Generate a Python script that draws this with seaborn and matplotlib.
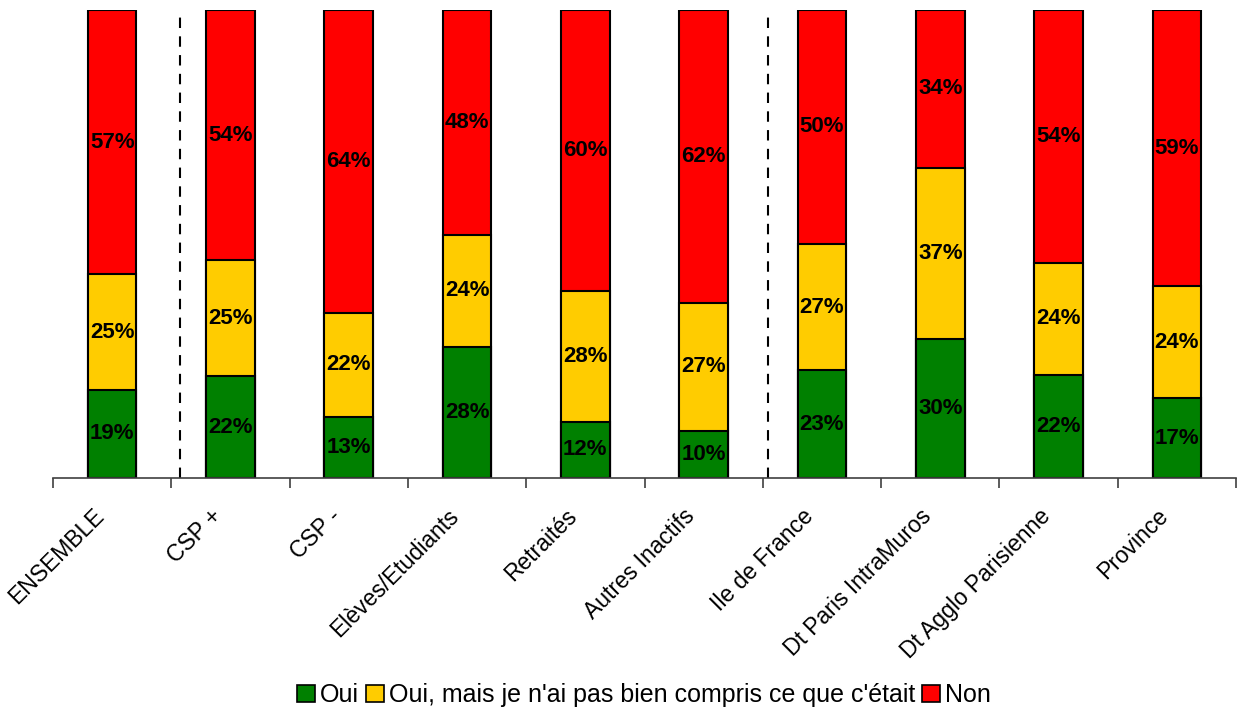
import matplotlib
matplotlib.use("Agg")
import matplotlib.pyplot as plt
from matplotlib.patches import Patch
from matplotlib.transforms import ScaledTranslation
import numpy as np
import pandas as pd
import seaborn as sns

categories = ["ENSEMBLE", "CSP +", "CSP -", "Elèves/Etudiants", "Retraités",
              "Autres Inactifs", "Ile de France", "Dt Paris IntraMuros",
              "Dt Agglo Parisienne", "Province"]
oui = [19, 22, 13, 28, 12, 10, 23, 30, 22, 17]
oui_mal_compris = [25, 25, 22, 24, 28, 27, 27, 37, 24, 24]
non = [57, 54, 64, 48, 60, 62, 50, 34, 54, 59]
series_names = ["Oui", "Oui, mais je n'ai pas bien compris ce que c'était", "Non"]
series_colors = ["#008000", "#FFCC00", "#FF0000"]

sns.set_theme(style="white")
plt.rcParams["font.family"] = ["Liberation Sans", "DejaVu Sans"]
plt.rcParams["text.color"] = "black"
plt.rcParams["xtick.color"] = "black"
plt.rcParams["xtick.labelcolor"] = "black"

df = pd.DataFrame({"cat": categories, "oui": oui, "mal": oui_mal_compris, "non": non})
total = df[["oui", "mal", "non"]].sum(axis=1)
# 100% stacked: each bar scaled to its own total
df["s_oui"] = df["oui"] / total * 100
df["s_mal"] = df["mal"] / total * 100
df["s_non"] = df["non"] / total * 100
df["c1"] = df["s_oui"]
df["c2"] = df["s_oui"] + df["s_mal"]
df["c3"] = df["c2"] + df["s_non"]

fig = plt.figure(figsize=(12.38, 7.12), dpi=100)
ax = fig.add_axes([53 / 1238, (712 - 478) / 712, (1236 - 53) / 1238, 468 / 712])

bar_w = 0.41
for col, color in zip(["c3", "c2", "c1"], series_colors[::-1]):
    sns.barplot(data=df, x="cat", y=col, order=categories, color=color,
                width=bar_w, edgecolor="black", linewidth=1.5, saturation=1,
                ax=ax, zorder=2)

# value labels centred in each segment
for i, row in df.iterrows():
    segs = [(0, row["c1"], row["oui"]), (row["c1"], row["c2"], row["mal"]),
            (row["c2"], row["c3"], row["non"])]
    for lo, hi, v in segs:
        ax.text(i, (lo + hi) / 2, f"{v}%", ha="center", va="center",
                fontsize=16, fontweight="bold", color="black", zorder=3)

# group separators
for xpos in (0.57, 5.54):
    ax.plot([xpos, xpos], [0, 99.5], color="black", lw=1.5,
            linestyle=(0, (5, 4)), zorder=1, clip_on=False)

ax.set_xlim(-0.5, len(categories) - 0.5)
ax.set_ylim(0, 100)
ax.set_xlabel("")
ax.set_ylabel("")
ax.set_yticks([])
for s in ("top", "right", "left"):
    ax.spines[s].set_visible(False)
ax.spines["bottom"].set_color("#404040")
ax.spines["bottom"].set_linewidth(1.2)

ax.set_xticks(np.arange(len(categories)))
ax.set_xticklabels(categories, rotation=45, ha="right", va="center",
                   rotation_mode="anchor", fontsize=16.5, color="black")
ax.set_xticks(np.arange(-0.5, len(categories)), minor=True)
ax.tick_params(axis="x", which="major", length=0, pad=25)
ax.tick_params(axis="x", which="minor", length=7, width=1.2, color="#404040",
               direction="out", bottom=True)
shift = ScaledTranslation(-12 / 100, 0, fig.dpi_scale_trans)
for lab in ax.get_xticklabels():
    lab.set_transform(lab.get_transform() + shift)

handles = [Patch(facecolor=c, edgecolor="black", linewidth=1.2) for c in series_colors]
fig.legend(handles, series_names, loc="center", bbox_to_anchor=(644 / 1238, 17 / 712),
           ncol=3, frameon=False, fontsize=18, handlelength=0.7, handleheight=0.7,
           handletextpad=0.2, columnspacing=0.3, borderaxespad=0,
           labelcolor="black")

fig.savefig("out.png", dpi=100)
